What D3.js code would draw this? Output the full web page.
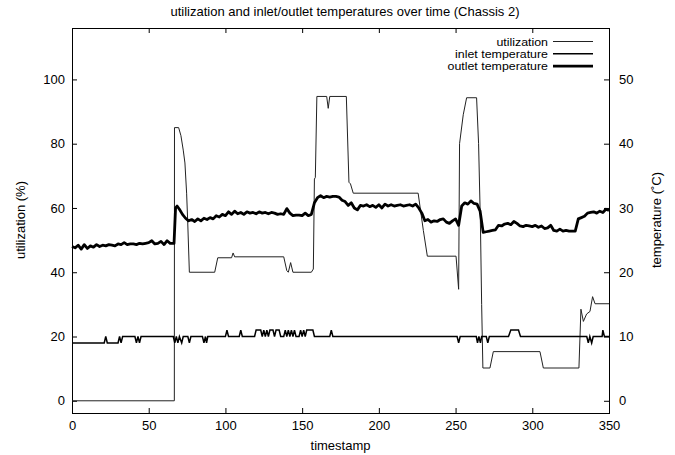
<!DOCTYPE html>
<html>
<head>
<meta charset="utf-8">
<script src="https://cdn.jsdelivr.net/npm/d3@7"></script>
<style>
  body { margin: 0; background: #fff; }
  svg text { font-family: "Liberation Sans", Arial, sans-serif; font-size: 13px; fill: #000; }
</style>
</head>
<body>
<svg id="chart" width="675" height="455"></svg>
<script>
// timestamp / value pairs
const utilization = [
  [0,0],[66.7,0],[66.8,85],[69.5,85],[71,82.5],[72.5,78],[73.6,74],[74.7,64.6],[75.4,56],[76.5,40],
  [93,40],[95,44.5],[104,44.5],[105,46],[106,44.8],[138,44.8],[140,40.5],[141,40],[142.5,43],[144,40],
  [156,40],[157.3,41],[158,69],[158.6,69.5],[159.6,94.7],[166,94.7],[167,91],[168,94.7],[178.8,94.7],
  [180.5,68],[181.5,67.5],[183.3,64.6],[225.6,64.6],[229,53],[231.6,45],[250.3,45],[252,34.7],
  [252.6,80],[255,89],[257.2,94.3],[263.7,94.3],[265,80],[266.2,55],[267,30],[267.8,10.2],
  [272.4,10.2],[274.6,15.3],[305,15.3],[307.2,10.2],[330.4,10.2],[331.7,28.5],[333.3,24.7],
  [335.4,27],[337.6,27.8],[339.3,32.4],[340.9,30.2],[350,30.2]
];

const inletTemp = [
  [0,9],[21,9],[22,10],[23,9],[30,9],[31,10],[32,9],[33,10],[41,10],[42,9],[43,10],[44,9],[45,10],
  [66,10],[67,9],[68,10],[69,9],[70,10],[71.5,9],[72.5,10],[75.5,10],[76.5,9],[77.5,10],
  [85,10],[86,9],[87,10],[87.7,9],[88.5,10],[100,10],[101,11],[102,10],[109,10],[110,11],[111,10],
  [119,10],[120,11],[123,11],[124,10],[125,11],[126,10],[127,11],[128,10],[129,11],[131,11],[132,10],
  [133,11],[135,11],[136,10],[138,10],[139,11],[140,10],[141,11],[142,10],[143,11],[144,10],[145,11],
  [146,10],[148,10],[149,11],[150,10],[151,11],[152,10],[153,11],[157,11],[158,10],[168,10],[169,11],
  [170,10],[251,10],[252,9],[253,10],[263.5,10],[264.3,9],[265.2,10],[266.2,9],[267,10],[270,10],
  [271,9],[272,10],[284.5,10],[286,11],[291,11],[292.3,10],[335.5,10],[336.5,9],[337.5,10],
  [338.7,9],[339.7,10],[345.5,10],[346,11],[347,10],[350,10]
];

const outletTemp = [
  [0,24.0],[2,23.8],[4,24.2],[6,23.6],[8,24.3],[10,23.7],[12,24.1],[14,23.9],[16,24.3],[18,24.0],
  [20,24.2],[22,24.1],[24,24.3],[26,24.2],[28,24.1],[30,24.4],[32,24.3],[34,24.6],[36,24.3],[38,24.4],
  [40,24.4],[42,24.3],[44,24.5],[46,24.4],[48,24.5],[50,24.6],[52,24.9],[54,24.4],[56,24.5],[58,24.8],
  [60,24.3],[62,24.9],[64,24.5],[66.5,24.5],[67.5,30.0],[68.5,30.3],[70,29.8],[72,29.0],[74,28.4],
  [76,28.0],[78,28.2],[80,27.9],[82,28.3],[84,28.0],[86,28.4],[88,28.2],[90,28.5],[92,28.3],[94,28.8],
  [96,28.6],[98,29.0],[100,28.8],[102,29.4],[104,29.0],[106,29.5],[108,29.1],[110,29.3],[112,29.0],
  [114,29.4],[116,29.2],[118,29.3],[120,29.1],[122,29.4],[124,29.2],[126,29.3],[128,29.1],[130,29.3],
  [132,29.2],[134,29.0],[136,29.1],[138,29.0],[140,29.9],[142,29.2],[144,28.8],[146,28.9],[148,28.9],
  [150,28.8],[152,29.2],[154,28.8],[156,29.0],[158,30.8],[160,31.6],[162,31.9],[164,31.6],[166,31.8],
  [168,31.7],[170,31.8],[172,31.8],[174,31.7],[176,31.2],[178,31.0],[180,30.4],[182,30.8],[184,30.0],
  [186,29.7],[188,30.4],[190,30.3],[192,30.5],[194,30.2],[196,30.4],[198,30.1],[200,30.5],[202,30.0],
  [204,30.6],[206,30.3],[208,30.5],[210,30.3],[212,30.4],[214,30.5],[216,30.3],[218,30.4],[220,30.5],
  [222,30.3],[224,30.6],[226,30.0],[228,29.2],[230,28.0],[232,28.2],[234,27.8],[236,28.0],[238,27.9],
  [240,28.2],[242,28.3],[244,27.8],[246,27.6],[248,28.0],[250,28.3],[252,27.3],[254,30.3],[256,30.8],
  [258,30.6],[260,31.1],[262,30.7],[264,30.6],[266,29.5],[268,26.2],[270,26.3],[272,26.4],[274,26.5],
  [276,26.6],[278,27.3],[280,27.2],[282,27.5],[284,27.6],[286,27.4],[288,27.9],[290,27.6],[292,27.2],
  [294,27.1],[296,27.3],[298,27.2],[300,27.1],[302,27.3],[304,27.0],[306,27.2],[308,26.8],[310,26.9],
  [312,27.3],[314,26.5],[316,26.4],[318,26.7],[320,26.4],[322,26.5],[324,26.4],[326,26.4],[328,26.4],
  [330,28.3],[332,28.5],[334,28.7],[336,29.2],[338,29.3],[340,29.4],[342,29.2],[344,29.5],[346,29.3],
  [348,29.8],[350,29.6]
];

const xTicks = [0, 50, 100, 150, 200, 250, 300, 350];
const utilTicks = [0, 20, 40, 60, 80, 100];
const tempTicks = [0, 10, 20, 30, 40, 50];
const seriesNames = ["utilization", "inlet temperature", "outlet temperature"];

const svg = d3.select("#chart");
const margin = {top: 28, right: 66, bottom: 42, left: 72};
const width = 675 - margin.left - margin.right;
const height = 455 - margin.top - margin.bottom;

const g = svg.append("g").attr("transform", `translate(${margin.left},${margin.top})`);

const x = d3.scaleLinear().domain([0, 350]).range([0, width]);
const yUtil = d3.scaleLinear().domain([-3.8, 116]).range([height, 0]);
const yTemp = d3.scaleLinear().domain([-1.9, 58]).range([height, 0]);

const tickLen = 5;

// ticks pointing inward, gnuplot style
function styleAxis(sel) {
  sel.select(".domain").remove();
  sel.selectAll(".tick line").attr("stroke", "#000").attr("stroke-width", 1);
  sel.selectAll(".tick text").style("font-size", "13px");
}

g.append("g")
  .attr("transform", `translate(0,${height})`)
  .call(d3.axisBottom(x).tickValues(xTicks).tickSizeInner(-tickLen).tickSizeOuter(0).tickPadding(8))
  .call(styleAxis);

g.append("g")
  .call(d3.axisTop(x).tickValues(xTicks).tickSizeInner(-tickLen).tickSizeOuter(0).tickFormat(""))
  .call(styleAxis);

g.append("g")
  .call(d3.axisLeft(yUtil).tickValues(utilTicks).tickSizeInner(-tickLen).tickSizeOuter(0).tickPadding(7))
  .call(styleAxis);

g.append("g")
  .attr("transform", `translate(${width},0)`)
  .call(d3.axisRight(yTemp).tickValues(tempTicks).tickSizeInner(-tickLen).tickSizeOuter(0).tickPadding(10))
  .call(styleAxis);

g.append("rect")
  .attr("x", 0.5).attr("y", 0.5)
  .attr("width", width).attr("height", height)
  .attr("fill", "none").attr("stroke", "#000").attr("stroke-width", 1);

const lineUtil = d3.line().x(d => x(d[0])).y(d => yUtil(d[1]));
const lineTemp = d3.line().x(d => x(d[0])).y(d => yTemp(d[1]));

g.append("path").datum(utilization)
  .attr("d", lineUtil).attr("fill", "none").attr("stroke", "#222").attr("stroke-width", 1);

g.append("path").datum(inletTemp)
  .attr("d", lineTemp).attr("fill", "none").attr("stroke", "#000").attr("stroke-width", 1.5)
  .attr("stroke-linejoin", "miter");

g.append("path").datum(outletTemp)
  .attr("d", lineTemp).attr("fill", "none").attr("stroke", "#000").attr("stroke-width", 2.8)
  .attr("stroke-linejoin", "round");

// legend - text stretched sideways so the rows stay 12px apart like the original
const legendStyle = [{w: 1, c: "#222"}, {w: 1.5, c: "#000"}, {w: 2.8, c: "#000"}];
const legend = svg.append("g");
seriesNames.forEach((name, i) => {
  const yy = 41.5 + i * 12.3;
  legend.append("text")
    .attr("transform", `translate(548,${yy + 4}) scale(1.17,1)`)
    .attr("text-anchor", "end")
    .style("font-size", "10.6px")
    .text(name);
  legend.append("line").attr("x1", 553).attr("x2", 593).attr("y1", yy).attr("y2", yy)
    .attr("stroke", legendStyle[i].c).attr("stroke-width", legendStyle[i].w);
});

// titles
svg.append("text").attr("x", 345).attr("y", 16).attr("text-anchor", "middle")
  .text("utilization and inlet/outlet temperatures over time (Chassis 2)");

svg.append("text").attr("x", margin.left + width / 2).attr("y", 450).attr("text-anchor", "middle")
  .text("timestamp");

svg.append("text").attr("transform", "translate(25,220) rotate(-90)").attr("text-anchor", "middle")
  .text("utilization (%)");

svg.append("text").attr("transform", "translate(661,220) rotate(-90)").attr("text-anchor", "middle")
  .text("temperature (˚C)");
</script>
</body>
</html>
